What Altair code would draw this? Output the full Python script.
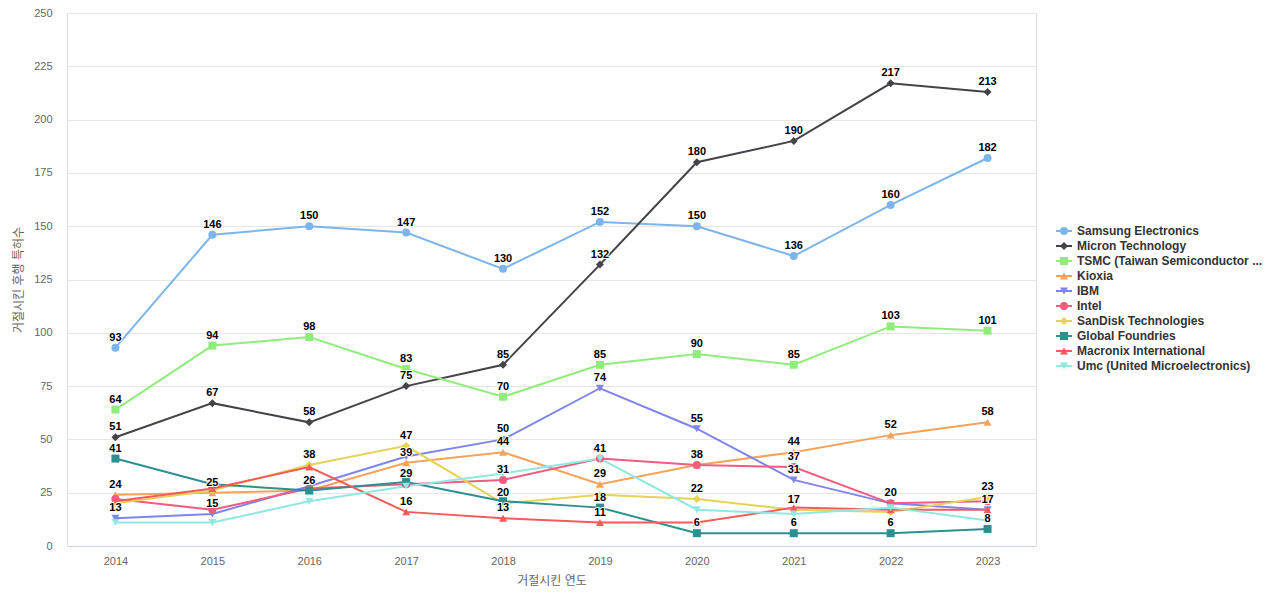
import altair as alt
import pandas as pd

years = ["2014", "2015", "2016", "2017", "2018", "2019", "2020", "2021", "2022", "2023"]

series_names = [
    "Samsung Electronics",
    "Micron Technology",
    "TSMC (Taiwan Semiconductor ...",
    "Kioxia",
    "IBM",
    "Intel",
    "SanDisk Technologies",
    "Global Foundries",
    "Macronix International",
    "Umc (United Microelectronics)",
]

samsung = [93, 146, 150, 147, 130, 152, 150, 136, 160, 182]
micron = [51, 67, 58, 75, 85, 132, 180, 190, 217, 213]
tsmc = [64, 94, 98, 83, 70, 85, 90, 85, 103, 101]
kioxia = [24, 25, 26, 39, 44, 29, 38, 44, 52, 58]
ibm = [13, 15, 28, 42, 50, 74, 55, 31, 20, 17]
intel = [22, 17, 27, 29, 31, 41, 38, 37, 20, 21]
sandisk = [20, 26, 38, 47, 20, 24, 22, 17, 16, 23]
globalfoundries = [41, 29, 26, 30, 21, 18, 6, 6, 6, 8]
macronix = [21, 27, 37, 16, 13, 11, 11, 18, 17, 17]
umc = [11, 11, 21, 28, 34, 41, 17, 15, 18, 12]

series_values = [samsung, micron, tsmc, kioxia, ibm, intel, sandisk,
                 globalfoundries, macronix, umc]

colors = ["#7cb5ec", "#434348", "#90ed7d", "#f7a35c", "#8085e9",
          "#f15c80", "#e4d354", "#2b908f", "#f45b5b", "#91e8e1"]
shapes = ["circle", "diamond", "square", "triangle-up", "triangle-down",
          "circle", "diamond", "square", "triangle-up", "triangle-down"]

FONT = "Liberation Sans, Arial, Noto Sans CJK KR, sans-serif"

# hide overlapping data labels (like the original's label collision handling)
LABEL_GAP = 5.4
rows = []
shown = {y: [] for y in years}
for si, (name, vals) in enumerate(zip(series_names, series_values)):
    for yr, v in zip(years, vals):
        ok = all(abs(v - s) >= LABEL_GAP for s in shown[yr])
        if ok:
            shown[yr].append(v)
        rows.append({"year": yr, "series": name, "value": v, "idx": si, "show": ok})
df = pd.DataFrame(rows)

color_scale = alt.Scale(domain=series_names, range=colors)
shape_scale = alt.Scale(domain=series_names, range=shapes)

PLOT_H = 533

base = alt.Chart(df).encode(
    x=alt.X("year:O", sort=years,
            scale=alt.Scale(type="point", padding=0.5),
            axis=alt.Axis(title="거절시킨 연도", labelAngle=0, ticks=False,
                          domainColor="#ccd6eb", domainWidth=1,
                          labelColor="#666666", labelFontSize=11, labelPadding=9,
                          titleColor="#666666", titleFontSize=12,
                          titleFontWeight="normal", titlePadding=9,
                          labelFont=FONT, titleFont=FONT, grid=False)),
    y=alt.Y("value:Q",
            scale=alt.Scale(domain=[0, 250], nice=False),
            axis=alt.Axis(title="거절시킨 후행 특허수", values=list(range(0, 251, 25)),
                          domain=False, ticks=False, grid=True, gridColor="#e6e6e6",
                          labelColor="#666666", labelFontSize=11, labelPadding=15,
                          titleColor="#666666", titleFontSize=12,
                          titleFontWeight="normal", titlePadding=8,
                          labelFont=FONT, titleFont=FONT)),
    color=alt.Color("series:N", scale=color_scale, legend=None),
)

lines = base.mark_line(strokeWidth=2).encode(detail="series:N")
points = base.mark_point(filled=True, size=64, opacity=1).encode(
    shape=alt.Shape("series:N", scale=shape_scale, legend=None))
label_base = base.transform_filter("datum.show")
labels_bg = label_base.mark_text(
    dy=-5, baseline="bottom", fontSize=11, fontWeight="bold", font=FONT,
    stroke="white", strokeWidth=2, fill="white").encode(
    text="value:Q", color=alt.value("white"))
labels = label_base.mark_text(
    dy=-5, baseline="bottom", fontSize=11, fontWeight="bold", font=FONT).encode(
    text="value:Q", color=alt.value("#000000"))

main = alt.layer(lines, points, labels_bg, labels).properties(width=969, height=PLOT_H)

# custom legend: one row per series, 15px apart, vertically centred on the page
leg_df = pd.DataFrame({"series": series_names, "idx": list(range(len(series_names)))})
leg_y = alt.Y("idx:Q", scale=alt.Scale(domain=[-14.533, 21.0], reverse=True, nice=False,
                                       zero=False), axis=None)
leg_color = alt.Color("series:N", scale=color_scale, legend=None)
leg_base = alt.Chart(leg_df)
leg_rule = leg_base.mark_rule(strokeWidth=2).encode(
    x=alt.value(0), x2=alt.value(16), y=leg_y, color=leg_color)
leg_pt = leg_base.mark_point(filled=True, size=64, opacity=1).encode(
    x=alt.value(8), y=leg_y, color=leg_color,
    shape=alt.Shape("series:N", scale=shape_scale, legend=None))
leg_txt = leg_base.mark_text(align="left", baseline="middle", fontSize=12,
                             fontWeight="bold", font=FONT, color="#333333").encode(
    x=alt.value(21), y=leg_y, text="series:N")
legend = alt.layer(leg_rule, leg_pt, leg_txt).properties(
    width=200, height=PLOT_H, view=alt.ViewConfig(stroke=None))

chart = alt.hconcat(main, legend, spacing=18).properties(
    padding={"left": 4, "top": -2, "right": 0, "bottom": 0}
).configure_view(stroke=None).configure(font=FONT)

chart.save("out.html", embed_options={"renderer": "svg", "actions": False})
